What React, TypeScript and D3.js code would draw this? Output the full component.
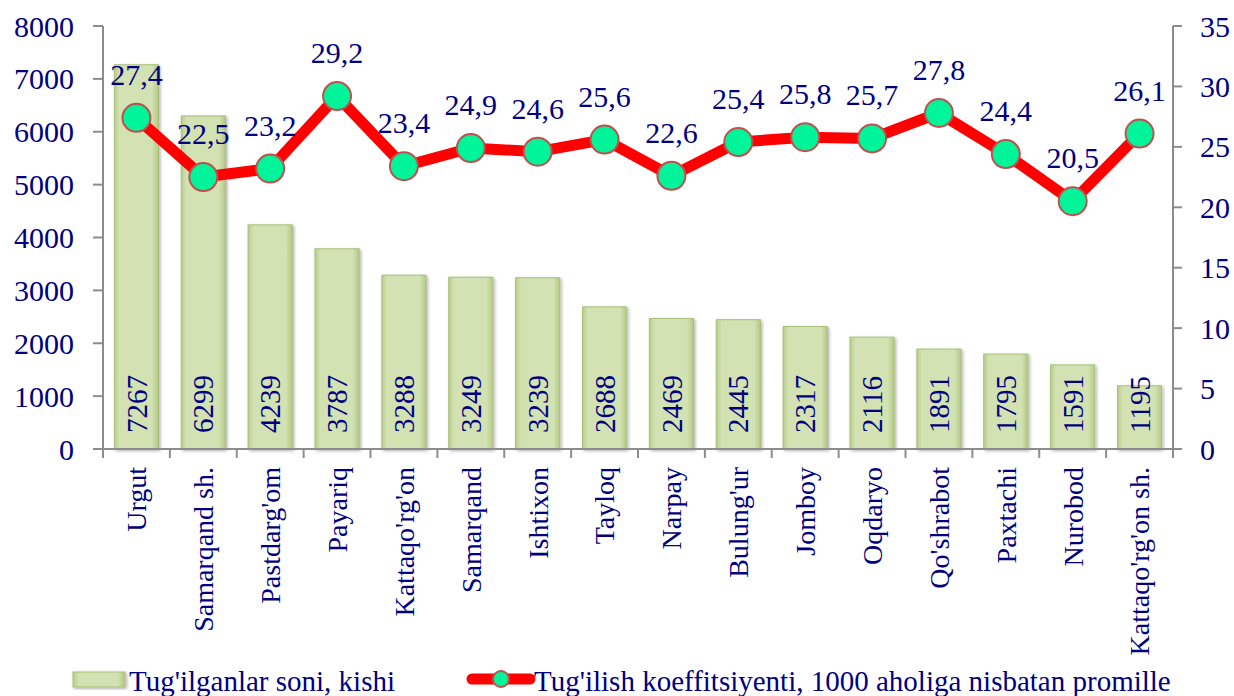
import React, { useEffect, useRef } from 'react';
import * as d3 from 'd3';

// district names
const districts = [
  'Urgut', 'Samarqand sh.', "Pastdarg'om", 'Payariq', "Kattaqo'rg'on", 'Samarqand',
  'Ishtixon', 'Tayloq', 'Narpay', "Bulung'ur", 'Jomboy', 'Oqdaryo',
  "Qo'shrabot", 'Paxtachi', 'Nurobod', "Kattaqo'rg'on sh.",
];
// births, persons
const births = [7267, 6299, 4239, 3787, 3288, 3249, 3239, 2688, 2469, 2445, 2317, 2116, 1891, 1795, 1591, 1195];
// birth rate per 1000 population
const birthRate = [27.4, 22.5, 23.2, 29.2, 23.4, 24.9, 24.6, 25.6, 22.6, 25.4, 25.8, 25.7, 27.8, 24.4, 20.5, 26.1];

const leftTicks = [0, 1000, 2000, 3000, 4000, 5000, 6000, 7000, 8000];
const rightTicks = [0, 5, 10, 15, 20, 25, 30, 35];

const barLegend = "Tug'ilganlar soni, kishi";
const lineLegend = "Tug'ilish koeffitsiyenti, 1000 aholiga nisbatan promille";

const W = 1234;
const H = 696;
const NAVY = '#000080';
const AXIS = '#8c8c8c';
const FONT = "'Times New Roman', 'Liberation Serif', 'DejaVu Serif', serif";

const App = () => {
  const svgRef = useRef<SVGSVGElement>(null);

  useEffect(() => {
    const svg = d3.select(svgRef.current);
    svg.selectAll('*').remove();

    const left = 103;
    const right = 1173;
    const top = 26;
    const bottom = 449;

    const x = d3.scaleBand<string>().domain(districts).range([left, right]).paddingInner(0.34).paddingOuter(0.17);
    const yL = d3.scaleLinear().domain([0, 8000]).range([bottom, top]);
    const yR = d3.scaleLinear().domain([0, 35]).range([bottom, top]);
    const step = x.step();

    // gradient for bars
    const defs = svg.append('defs');
    const grad = defs.append('linearGradient').attr('id', 'barGrad').attr('x1', '0').attr('x2', '1').attr('y1', '0').attr('y2', '0');
    grad.append('stop').attr('offset', '0%').attr('stop-color', '#b9cd8c');
    grad.append('stop').attr('offset', '12%').attr('stop-color', '#d3e2b2');
    grad.append('stop').attr('offset', '85%').attr('stop-color', '#d3e2b2');
    grad.append('stop').attr('offset', '100%').attr('stop-color', '#b4c987');
    const shadow = defs.append('filter').attr('id', 'barShadow').attr('x', '-20%').attr('y', '-20%').attr('width', '140%').attr('height', '140%');
    shadow.append('feDropShadow').attr('dx', 1.5).attr('dy', 1.5).attr('stdDeviation', 1.5).attr('flood-color', '#000').attr('flood-opacity', 0.3);

    // bars
    svg.append('g')
      .selectAll('rect')
      .data(births)
      .enter().append('rect')
      .attr('x', (d, i) => x(districts[i]))
      .attr('y', d => yL(d))
      .attr('width', x.bandwidth())
      .attr('height', d => bottom - yL(d))
      .attr('fill', 'url(#barGrad)')
      .attr('stroke', '#a8bf78')
      .attr('stroke-width', 1)
      .attr('filter', 'url(#barShadow)');

    // bar value labels (rotated)
    svg.append('g')
      .selectAll('text')
      .data(births)
      .enter().append('text')
      .attr('transform', (d, i) => `translate(${x(districts[i]) + x.bandwidth() / 2},${bottom - 16}) rotate(-90)`)
      .attr('dy', '0.35em')
      .attr('text-anchor', 'start')
      .style('font-family', FONT)
      .attr('font-size', 29)
      .attr('fill', NAVY)
      .text(d => d);

    // axes
    const ax = svg.append('g').attr('stroke', AXIS).attr('stroke-width', 2).attr('fill', 'none');
    ax.append('line').attr('x1', left).attr('x2', left).attr('y1', top).attr('y2', bottom);
    ax.append('line').attr('x1', right).attr('x2', right).attr('y1', top).attr('y2', bottom);
    ax.append('line').attr('x1', left - 10).attr('x2', right + 9).attr('y1', bottom).attr('y2', bottom);
    leftTicks.forEach(t => {
      ax.append('line').attr('x1', left - 10).attr('x2', left).attr('y1', yL(t)).attr('y2', yL(t));
    });
    rightTicks.forEach(t => {
      ax.append('line').attr('x1', right).attr('x2', right + 9).attr('y1', yR(t)).attr('y2', yR(t));
    });
    d3.range(districts.length + 1).forEach(i => {
      const xx = left + i * step;
      ax.append('line').attr('x1', xx).attr('x2', xx).attr('y1', bottom).attr('y2', bottom + 9);
    });

    // tick labels
    svg.append('g')
      .selectAll('text')
      .data(leftTicks)
      .enter().append('text')
      .attr('x', left - 29)
      .attr('y', d => yL(d))
      .attr('dy', '0.35em')
      .attr('text-anchor', 'end')
      .style('font-family', FONT)
      .attr('font-size', 30)
      .attr('fill', NAVY)
      .text(d => d);

    svg.append('g')
      .selectAll('text')
      .data(rightTicks)
      .enter().append('text')
      .attr('x', right + 27)
      .attr('y', d => yR(d))
      .attr('dy', '0.35em')
      .attr('text-anchor', 'start')
      .style('font-family', FONT)
      .attr('font-size', 30)
      .attr('fill', NAVY)
      .text(d => d);

    // category labels
    svg.append('g')
      .selectAll('text')
      .data(districts)
      .enter().append('text')
      .attr('transform', d => `translate(${x(d) + x.bandwidth() / 2},${bottom + 18}) rotate(-90)`)
      .attr('dy', '0.35em')
      .attr('text-anchor', 'end')
      .style('font-family', FONT)
      .attr('font-size', 28)
      .attr('fill', NAVY)
      .text(d => d);

    // line series
    const cx = (i: number) => x(districts[i]) + x.bandwidth() / 2;
    const line = d3.line<number>().x((d, i) => cx(i)).y(d => yR(d));
    svg.append('path')
      .datum(birthRate)
      .attr('d', line)
      .attr('fill', 'none')
      .attr('stroke', '#ff0000')
      .attr('stroke-width', 11)
      .attr('stroke-linejoin', 'round');

    svg.append('g')
      .selectAll('circle')
      .data(birthRate)
      .enter().append('circle')
      .attr('cx', (d, i) => cx(i))
      .attr('cy', d => yR(d))
      .attr('r', 14)
      .attr('fill', '#00f59b')
      .attr('stroke', '#c0504d')
      .attr('stroke-width', 2);

    svg.append('g')
      .selectAll('text')
      .data(birthRate)
      .enter().append('text')
      .attr('x', (d, i) => cx(i))
      .attr('y', d => yR(d) - 33)
      .attr('text-anchor', 'middle')
      .style('font-family', FONT)
      .attr('font-size', 30)
      .attr('fill', NAVY)
      .text(d => d.toFixed(1).replace('.', ','));

    // legend
    const lg = svg.append('g');
    lg.append('rect')
      .attr('x', 73).attr('y', 672).attr('width', 52).attr('height', 15)
      .attr('fill', 'url(#barGrad)').attr('stroke', '#a8bf78').attr('stroke-width', 1)
      .attr('filter', 'url(#barShadow)');
    lg.append('text')
      .attr('x', 129).attr('y', 691)
      .style('font-family', FONT).attr('font-size', 29).attr('fill', NAVY)
      .text(barLegend);
    lg.append('line')
      .attr('x1', 472).attr('x2', 530).attr('y1', 679).attr('y2', 679)
      .attr('stroke', '#ff0000').attr('stroke-width', 11).attr('stroke-linecap', 'round');
    lg.append('circle')
      .attr('cx', 501).attr('cy', 679).attr('r', 8)
      .attr('fill', '#00f59b').attr('stroke', '#c0504d').attr('stroke-width', 2);
    lg.append('text')
      .attr('x', 534).attr('y', 691)
      .style('font-family', FONT).attr('font-size', 29).attr('fill', NAVY)
      .text(lineLegend);
  }, []);

  return (
    <svg
      ref={svgRef}
      width={W}
      height={H}
      style={{ position: 'absolute', left: 0, top: 0, background: '#fff' }}
    />
  );
};

export default App;
